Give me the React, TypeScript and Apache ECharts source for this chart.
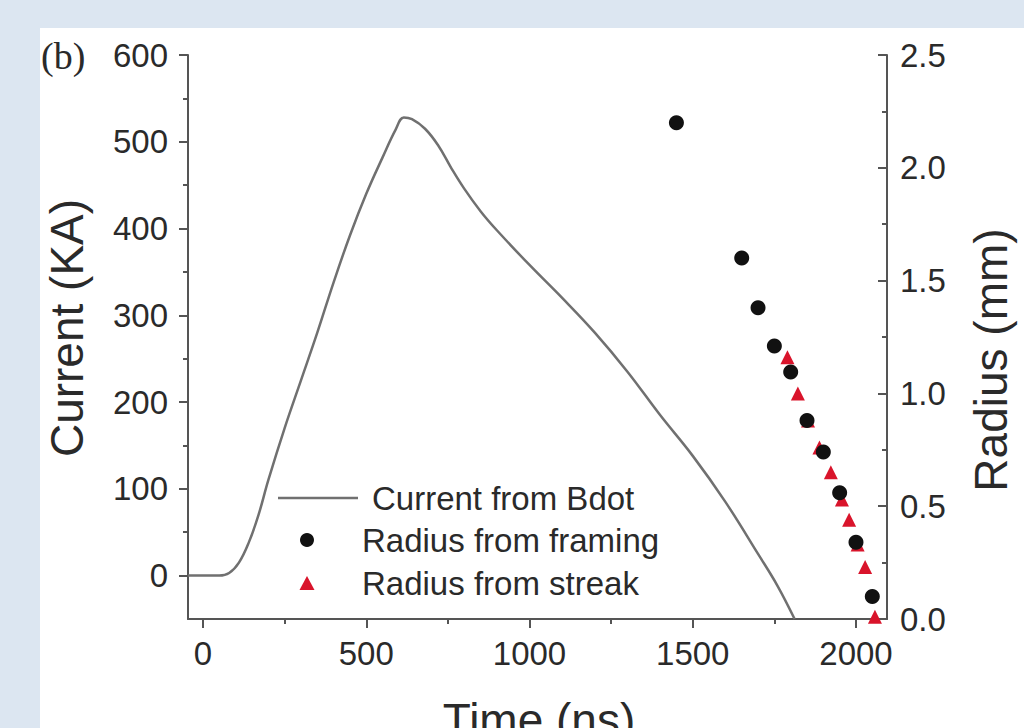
import React, { useEffect, useRef } from "react";
import * as echarts from "echarts";

// Current from Bdot (time in ns, current in KA)
const currentTime = [-46, 0, 50, 80, 110, 140, 170, 200, 250, 300, 350, 400, 450, 500, 550, 590, 615, 640, 680, 720, 760, 800, 850, 900, 1000, 1100, 1200, 1300, 1400, 1500, 1600, 1700, 1760, 1812];
const currentKA = [0, 0, 0, 3, 15, 38, 70, 110, 170, 225, 280, 338, 392, 440, 482, 514, 528, 526, 515, 496, 470, 446, 420, 398, 358, 320, 280, 235, 185, 138, 85, 25, -12, -50];

// Radius from framing (ns, mm)
const framingTime = [1450, 1650, 1700, 1750, 1800, 1850, 1900, 1950, 2000, 2050];
const framingRadius = [2.2, 1.6, 1.38, 1.21, 1.095, 0.88, 0.74, 0.56, 0.34, 0.1];

// Radius from streak (ns, mm)
const streakTime = [1790, 1822, 1853, 1888, 1923, 1957, 1979, 2005, 2028, 2058];
const streakRadius = [1.16, 1.0, 0.88, 0.76, 0.65, 0.53, 0.44, 0.33, 0.23, 0.01];

const xMajor = [0, 500, 1000, 1500, 2000];
const xMinor = [250, 750, 1250, 1750];
const yLeftMajor = [0, 100, 200, 300, 400, 500, 600];
const yLeftMinor = [50, 150, 250, 350, 450, 550];

const seriesNames = ["Current from Bdot", "Radius from framing", "Radius from streak"];

const FONT = "'Liberation Sans', Arial, sans-serif";
const AXIS = "#555555";
const TXT = "#2a2a2a";

export default function App() {
  const ref = useRef<HTMLDivElement>(null);
  useEffect(() => {
    document.body.style.margin = "0";
    const chart = echarts.init(ref.current!, null, { renderer: "svg" });
    const lab = { fontFamily: FONT, fontSize: 33, color: TXT };
    const line = { show: true, onZero: false, lineStyle: { color: AXIS, width: 2 } };
    const noLine = { show: false, onZero: false };
    const option: any = {
      animation: false,
      backgroundColor: "#dce6f1",
      grid: { left: 188, right: 137, top: 55, bottom: 109 },
      xAxis: [
        {
          type: "value", min: -46, max: 2095,
          axisLine: line,
          axisTick: { show: true, customValues: xMajor, length: 9, lineStyle: { color: AXIS, width: 2 } },
          axisLabel: { customValues: xMajor, margin: 18, formatter: (v: number) => String(v), ...lab },
          splitLine: { show: false },
        },
        {
          type: "value", min: -46, max: 2095, position: "bottom",
          axisLine: noLine,
          axisTick: { show: true, customValues: xMinor, length: 5, lineStyle: { color: AXIS, width: 2 } },
          axisLabel: { show: false },
          splitLine: { show: false },
        },
      ],
      yAxis: [
        {
          type: "value", min: -50, max: 600, position: "left",
          axisLine: line,
          axisTick: { show: true, customValues: yLeftMajor, length: 9, lineStyle: { color: AXIS, width: 2 } },
          axisLabel: { customValues: yLeftMajor, margin: 20, formatter: (v: number) => String(v), ...lab },
          splitLine: { show: false },
        },
        {
          type: "value", min: -50, max: 600, position: "left",
          axisLine: noLine,
          axisTick: { show: true, customValues: yLeftMinor, length: 5, lineStyle: { color: AXIS, width: 2 } },
          axisLabel: { show: false },
          splitLine: { show: false },
        },
        {
          type: "value", min: 0, max: 2.5, interval: 0.5, position: "right",
          axisLine: line,
          axisTick: { show: true, inside: true, length: 9, lineStyle: { color: AXIS, width: 2 } },
          minorTick: { show: true, splitNumber: 2, length: 5, lineStyle: { color: AXIS, width: 2 } },
          axisLabel: { margin: 13, formatter: (v: number) => v.toFixed(1), ...lab },
          splitLine: { show: false },
        },
      ],
      graphic: [
        { type: "rect", z: -10, silent: true, shape: { x: 40, y: 28, width: 984, height: 700 }, style: { fill: "#ffffff" } },
        { type: "text", x: 41, y: 56, style: { text: "(b)", font: "38px 'Liberation Serif', 'Times New Roman', serif", fill: TXT, textVerticalAlign: "middle" } },
        { type: "text", x: 67, y: 328, rotation: Math.PI / 2, style: { text: "Current (KA)", font: `46px ${FONT}`, fill: TXT, textAlign: "center", textVerticalAlign: "middle" } },
        { type: "text", x: 991, y: 360, rotation: Math.PI / 2, style: { text: "Radius (mm)", font: `46px ${FONT}`, fill: TXT, textAlign: "center", textVerticalAlign: "middle" } },
        { type: "text", x: 539, y: 697, style: { text: "Time (ns)", font: `46px ${FONT}`, fill: TXT, textAlign: "center", textVerticalAlign: "top" } },
        // legend
        { type: "line", shape: { x1: 278, y1: 498, x2: 358, y2: 498 }, style: { stroke: "#707070", lineWidth: 2.5 } },
        { type: "text", x: 372, y: 498, style: { text: seriesNames[0], font: `33px ${FONT}`, fill: TXT, textVerticalAlign: "middle" } },
        { type: "circle", shape: { cx: 307, cy: 540, r: 7 }, style: { fill: "#111111" } },
        { type: "text", x: 362, y: 540, style: { text: seriesNames[1], font: `33px ${FONT}`, fill: TXT, textVerticalAlign: "middle" } },
        { type: "polygon", shape: { points: [[307, 576], [314.5, 590], [299.5, 590]] }, style: { fill: "#d9142b" } },
        { type: "text", x: 362, y: 583, style: { text: seriesNames[2], font: `33px ${FONT}`, fill: TXT, textVerticalAlign: "middle" } },
      ],
      series: [
        {
          name: seriesNames[0], type: "line", xAxisIndex: 0, yAxisIndex: 0,
          data: currentTime.map((t, i) => [t, currentKA[i]]),
          showSymbol: false, smooth: 0.4, clip: true,
          lineStyle: { color: "#707070", width: 2.5 },
        },
        {
          name: seriesNames[2], type: "scatter", xAxisIndex: 0, yAxisIndex: 2,
          data: streakTime.map((t, i) => [t, streakRadius[i]]),
          symbol: "triangle", symbolSize: 14, itemStyle: { color: "#d9142b", opacity: 1 },
        },
        {
          name: seriesNames[1], type: "scatter", xAxisIndex: 0, yAxisIndex: 2,
          data: framingTime.map((t, i) => [t, framingRadius[i]]),
          symbol: "circle", symbolSize: 15, itemStyle: { color: "#111111", opacity: 1 },
        },
      ],
    };
    chart.setOption(option);
    return () => chart.dispose();
  }, []);
  return <div ref={ref} style={{ position: "fixed", left: 0, top: 0, width: 1024, height: 728 }} />;
}
